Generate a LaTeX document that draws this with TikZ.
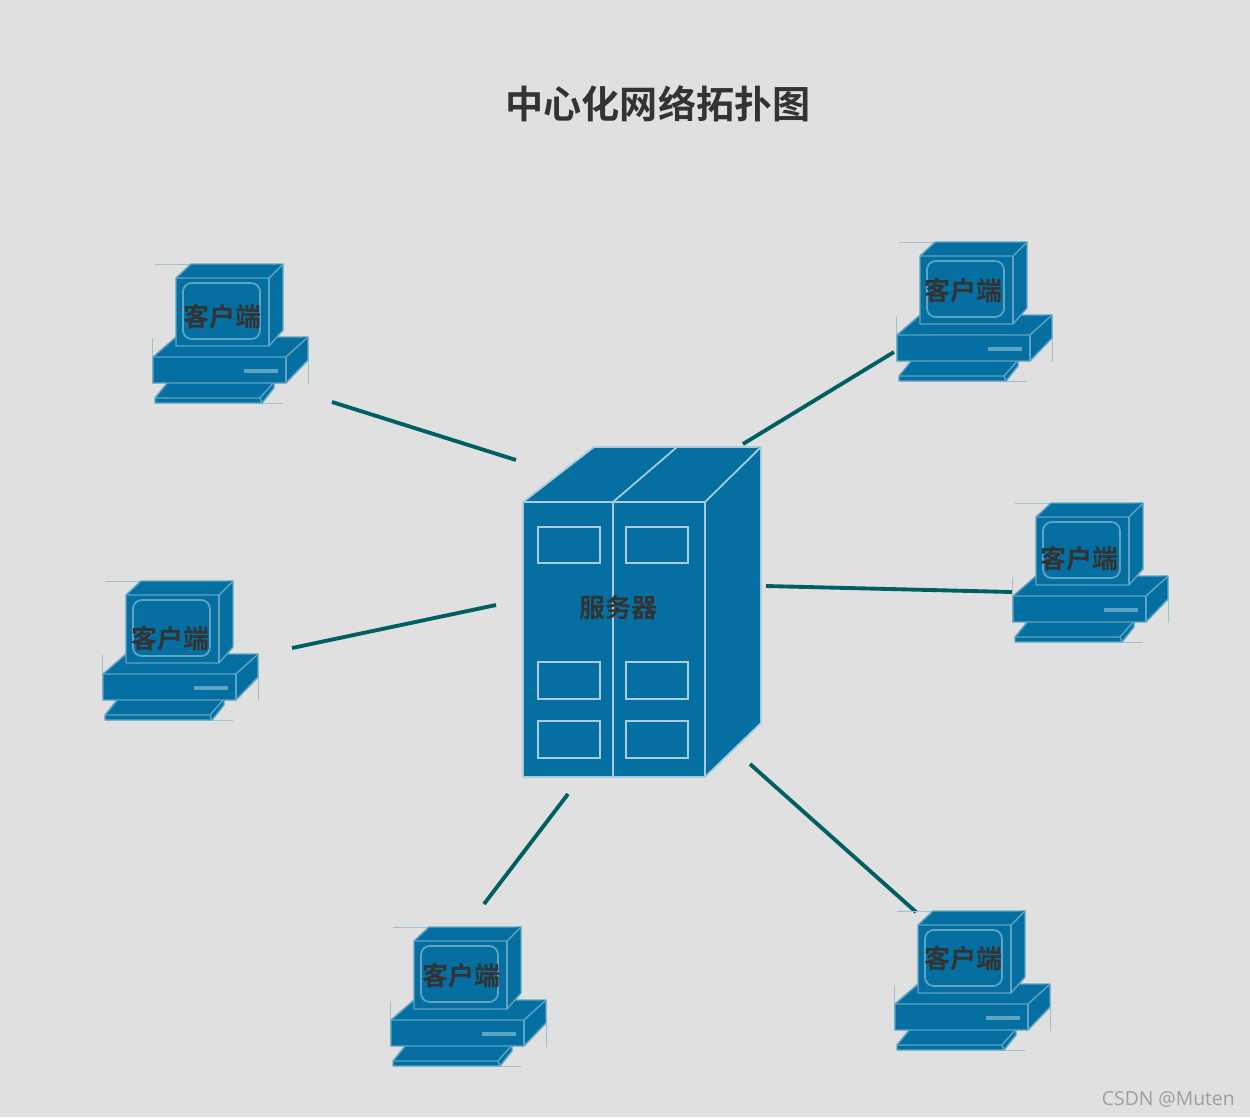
\documentclass[tikz,border=0pt]{standalone}
\usepackage{fontspec}
\setmainfont{Open Sans}
\newfontfamily\cjk{Noto Sans CJK SC}[BoldFont={Noto Sans CJK SC Bold}]
\definecolor{bgcol}{HTML}{E0E0E0}
\definecolor{boxblue}{HTML}{046FA0}
\definecolor{edgeblue}{HTML}{5FA4C3}
\definecolor{edgepale}{HTML}{A9CCDC}
\definecolor{linkgreen}{HTML}{005F63}
\definecolor{textgray}{HTML}{333333}
\tikzset{
  clientpart/.style={fill=boxblue, draw=edgeblue, line width=0.8pt, line join=round},
  clientlabel/.style={font=\cjk\bfseries\fontsize{14.8}{16}\selectfont, text=textgray, inner sep=0pt},
  serverpart/.style={fill=boxblue, draw=edgepale, line width=1pt, line join=round},
  serverpanel/.style={draw=edgepale, line width=1.2pt},
  link/.style={draw=linkgreen, line width=2.2pt},
  pics/client/.style={code={
    % Randlinien
    \draw[edgeblue!50!bgcol, line width=0.4pt] (3,0) -- (38,0) (0.6,74) -- (0.6,120) (156,96) -- (156,120) (110,139.5) -- (131,139.5);
    % Tastatur
    \draw[clientpart] (16,118) -- (122,118) -- (122,124) -- (110,139) -- (3,139) -- (3,134) -- cycle;
    \draw[clientpart] (3,134) -- (108,134) -- (122,118);
    \draw[clientpart] (108,134) -- (110,139);
    % Sockel
    \draw[clientpart] (24,73) -- (156,73) -- (156,96) -- (134,119) -- (1,119) -- (1,93) -- cycle;
    \draw[clientpart] (1,93) -- (134,93) -- (156,73);
    \draw[clientpart] (134,93) -- (134,119);
    \fill[edgeblue] (92,105) rectangle (126,109);
    % Monitor
    \draw[clientpart] (24,14) -- (39,0) -- (131,0) -- (131,66) -- (117,82) -- (24,82) -- cycle;
    \draw[clientpart] (24,14) -- (117,14) -- (131,0);
    \draw[clientpart] (117,14) -- (117,82);
    \draw[edgeblue, line width=1pt, rounded corners=5pt] (31,19) rectangle (108,75);
  }}
}
\begin{document}
\begin{tikzpicture}[x=0.02cm, y=-0.02cm]
  \useasboundingbox (0,0) rectangle (1250,1117);
  \fill[bgcol] (0,0) rectangle (1250,1117);

  % Titel
  \node[font=\cjk\bfseries\fontsize{21.7}{24}\selectfont, text=textgray, inner sep=0pt] (title) at (658,104) {中心化网络拓扑图};

  % Verbindungen
  \coordinate (a1) at (516,460); \coordinate (b1) at (332,402);
  \coordinate (a2) at (743,444); \coordinate (b2) at (894,352);
  \coordinate (a3) at (766,586); \coordinate (b3) at (1012,592);
  \coordinate (a4) at (496,605); \coordinate (b4) at (292,648);
  \coordinate (a5) at (568,794); \coordinate (b5) at (484,904);
  \coordinate (a6) at (750,764); \coordinate (b6) at (916,912);
  \foreach \i in {1,...,6}
    \draw[link] (a\i) -- (b\i);

  % Server
  \draw[serverpart] (523,502) -- (594,447) -- (761,447) -- (761,723) -- (705,777) -- (523,777) -- cycle;
  \draw[serverpart] (523,502) -- (705,502) -- (761,447);
  \draw[serverpart] (705,502) -- (705,777);
  \draw[serverpart] (613,502) -- (613,777);
  \draw[serverpart] (613,502) -- (677,447);

  % Felder
  \foreach \y/\h in {527/563, 662/699, 721/758} {
    \draw[serverpanel] (538,\y) rectangle (600,\h);
    \draw[serverpanel] (626,\y) rectangle (688,\h);
  }
  \node[clientlabel] (server) at (618,608) {服务器};

  % Clients
  \pic at (152,264) {client};
  \pic at (896,242) {client};
  \pic at (1012,503) {client};
  \pic at (102,581) {client};
  \pic at (390,927) {client};
  \pic at (894,911) {client};
  \node[clientlabel] (client1) at (222.5,317) {客户端};
  \node[clientlabel] (client2) at (963.5,291) {客户端};
  \node[clientlabel] (client3) at (1079.5,559) {客户端};
  \node[clientlabel] (client4) at (170.5,639) {客户端};
  \node[clientlabel] (client5) at (461.5,976) {客户端};
  \node[clientlabel] (client6) at (963.5,959) {客户端};

  % Wasserzeichen
  \node[anchor=east, font=\fontsize{11}{13}\selectfont, text=black!38, inner sep=0pt] (mark) at (1235,1099) {CSDN @Muten};
\end{tikzpicture}
\end{document}
